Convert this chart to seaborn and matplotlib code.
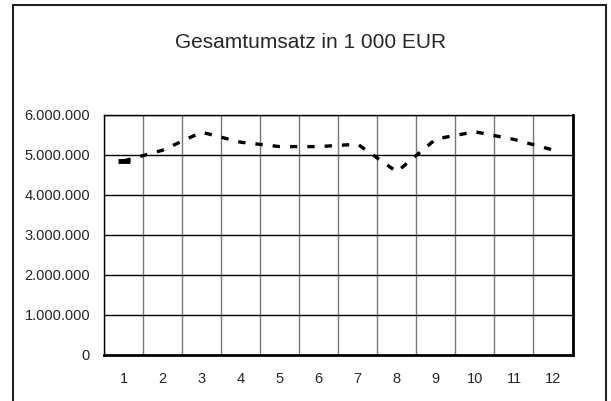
import matplotlib
matplotlib.use("Agg")
import matplotlib.pyplot as plt
import seaborn as sns
import pandas as pd
from matplotlib.lines import Line2D
from matplotlib.ticker import FuncFormatter

# Monthly total turnover
months = [1, 2, 3, 4, 5, 6, 7, 8, 9, 10, 11, 12]
umsatz = [4850000, 5120000, 5570000, 5320000, 5210000, 5210000,
          5270000, 4580000, 5400000, 5580000, 5390000, 5125000]
y_ticks = [0, 1000000, 2000000, 3000000, 4000000, 5000000, 6000000]

df = pd.DataFrame({"monat": months, "umsatz": umsatz})

sns.set_style("white")
plt.rcParams["font.family"] = ["Liberation Sans", "DejaVu Sans"]

fig = plt.figure(figsize=(6.11, 4.01), dpi=100)
ax = fig.add_axes([104 / 611, 46 / 401, 468.5 / 611, 240 / 401])

sns.lineplot(data=df, x="monat", y="umsatz", ax=ax, color="black",
             linewidth=2.4, dashes=False, zorder=5)
ax.lines[0].set_dashes([2.2, 3.0])
# single marker on the first point
ax.plot(months[:1], umsatz[:1], marker="_", markersize=9, mew=3.5,
        color="black", linestyle="none", zorder=6)

ax.set_xlim(0.5, 12.5)
ax.set_ylim(0, 6000000)
ax.set_yticks(y_ticks)
ax.yaxis.set_major_formatter(
    FuncFormatter(lambda v, p: "{:,.0f}".format(v).replace(",", ".")))

# category boundaries as gridlines, labels centred in between
ax.set_xticks([m - 0.5 for m in months] + [12.5])
ax.set_xticklabels([])
ax.set_xticks(months, minor=True)
ax.set_xticklabels([str(m) for m in months], minor=True)
ax.tick_params(axis="x", which="major", direction="out", length=4,
               width=1, color="#777777")
ax.tick_params(axis="x", which="minor", length=0, pad=12, labelsize=10.5)
ax.tick_params(axis="y", direction="out", length=4, width=1,
               color="black", labelsize=10.5, pad=6)

ax.grid(axis="x", which="major", color="#777777", linewidth=1)
ax.grid(axis="y", color="black", linewidth=1)
ax.set_axisbelow(True)

ax.set_xlabel("")
ax.set_ylabel("")
for side in ["left", "top"]:
    ax.spines[side].set_color("black")
    ax.spines[side].set_linewidth(1)
ax.spines["right"].set_color("black")
ax.spines["right"].set_linewidth(2)
ax.spines["bottom"].set_color("black")
ax.spines["bottom"].set_linewidth(2)

fig.text(311 / 611, 1 - 42 / 401, "Gesamtumsatz in 1 000 EUR",
         ha="center", va="center", fontsize=15)

# outer chart-area frame (bottom edge cut off)
x0, x1, yt = 12.5 / 611, 606 / 611, 1 - 4.5 / 401
for xs, ys in [([x0, x0], [0, yt]), ([x0, x1], [yt, yt]), ([x1, x1], [yt, 0])]:
    fig.add_artist(Line2D(xs, ys, color="#222222", linewidth=1.5,
                          transform=fig.transFigure))

fig.savefig("out.png", dpi=100)
